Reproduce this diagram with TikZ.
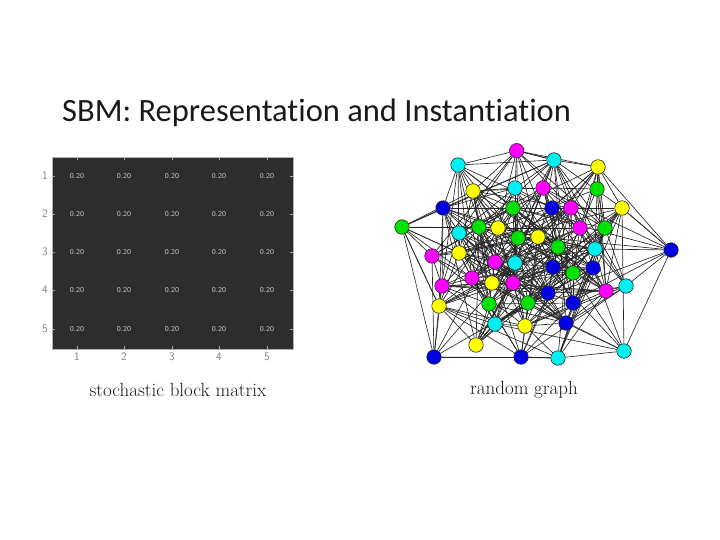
\documentclass[tikz,border=0pt]{standalone}
\usepackage{fontspec}
\newfontfamily\titlefont[Ligatures=NoCommon]{Carlito}
\usetikzlibrary{backgrounds}
\definecolor{gmag}{RGB}{255,0,255}
\definecolor{gcya}{RGB}{0,240,240}
\definecolor{gyel}{RGB}{255,255,0}
\definecolor{ggrn}{RGB}{0,225,0}
\definecolor{gblu}{RGB}{0,0,225}
\definecolor{matbg}{RGB}{45,45,45}
\definecolor{matval}{RGB}{200,200,200}
\definecolor{axlab}{RGB}{125,125,125}
\tikzset{
  gn/.style={circle,draw=black!85,line width=0.6pt,minimum size=14.5pt,inner sep=0pt},
  edge/.style={draw=black!85,line width=0.65pt},
  val/.style={text=matval,font=\sffamily\fontsize{7.5}{8}\selectfont,inner sep=0pt},
  axl/.style={text=axlab,font=\sffamily\fontsize{11.5}{12}\selectfont,inner sep=0pt},
  tick/.style={draw=gray!70,line width=0.4pt},
  capt/.style={font=\fontsize{19}{21}\selectfont,text=black!90,inner sep=0pt}
}
\begin{document}
\begin{tikzpicture}[x=1pt,y=-1pt]
\useasboundingbox (0,0) rectangle (720,540);
% title
\node[anchor=base west,inner sep=0pt,text=black!90,font=\titlefont\fontsize{32.5}{36}\selectfont] (title) at (62,122) {SBM: Representation and Instantiation};
% matrix
\node[draw=gray!60,fill=matbg,line width=0.6pt,minimum width=241pt,minimum height=192pt,inner sep=0pt,anchor=north west] (mat) at (52,157) {};
\foreach \c/\cx in {1/77,2/124,3/172,4/219,5/267}{
  \node[axl] (cl\c) at (\cx,357) {\c};
  \draw[tick] (\cx,157) -- (\cx,160);
  \draw[tick] (\cx,349) -- (\cx,346);
}
\foreach \r/\ry in {1/176,2/214,3/252,4/290,5/329}{
  \node[axl] (rl\r) at (45,\ry) {\r};
  \draw[tick] (52,\ry) -- (55,\ry);
  \draw[tick] (293,\ry) -- (290,\ry);
  \foreach \c/\cx in {1/77,2/124,3/172,4/219,5/267}{
    \node[val] (v\r\c) at (\cx,\ry) {0.20};
  }
}
\node[capt,anchor=center] (cap1) at (178,390) {stochastic block matrix};
% graph nodes
\foreach \n/\x/\y/\c in {
1/516.7/150.7/gmag, 2/458/165/gcya, 3/554/160/gcya, 4/598/167/gyel,
5/473/191/gyel, 6/515/188/gcya, 7/543/188/gmag, 8/597/189/ggrn,
9/443/208/gblu, 10/513/208/ggrn, 11/552/208/gblu, 12/571/208/gmag,
13/622/208/gyel, 14/402/227/ggrn, 15/479/227/ggrn, 16/498/228/gyel,
17/459/233/gcya, 18/518/238/ggrn, 19/538/237/gyel, 20/580/228/gmag,
21/605/228/ggrn, 22/558/247/ggrn, 23/595/249/gcya, 24/671/250/gblu,
25/432/256/gmag, 26/459/253/gyel, 27/495/262/gmag, 28/515/263/gcya,
29/553/267/gblu, 30/573/273/ggrn, 31/593/268/gblu, 32/472/278/gmag,
33/492/283/gyel, 34/513/283/gmag, 35/442/286/gmag, 36/626/286/gcya,
37/606/291/gmag, 38/548/293/gblu, 39/573/303/gblu, 40/439/306/gyel,
41/489/304/ggrn, 42/528/303/ggrn, 43/495/324/gcya, 44/525/326/gyel,
45/566/323/gblu, 46/476/345/gyel, 47/434/357/gblu, 48/521/357/gblu,
49/558/358/gcya, 50/624/351/gcya}{
  \node[gn,fill=\c] (n\n) at (\x,\y) {};
}
\begin{pgfonlayer}{background}
\pgfmathsetseed{7}
\foreach \i in {1,...,49}{
  \pgfmathtruncatemacro\ni{\i+1}
  \foreach \j in {\ni,...,50}{
    \pgfpointdiff{\pgfpointanchor{n\i}{center}}{\pgfpointanchor{n\j}{center}}
    \pgfgetlastxy{\dx}{\dy}
    \pgfmathsetmacro\dd{veclen(\dx,\dy)}
    \pgfmathsetmacro\pp{min(0.6,1.1*exp(-\dd/75))}
    \pgfmathtruncatemacro\hit{rnd<\pp ? 1 : 0}
    \ifnum\hit=1 \draw[edge] (n\i) -- (n\j); \fi
  }
}
\foreach \a/\b in {47/48,48/49,49/50,50/24,24/4,24/13,2/1,1/3,14/9,14/25,24/36,2/9,3/4,14/40,47/40}{
  \draw[edge] (n\a) -- (n\b);
}
\end{pgfonlayer}
\node[capt,anchor=center] (cap2) at (524,390) {random graph};
\end{tikzpicture}
\end{document}
